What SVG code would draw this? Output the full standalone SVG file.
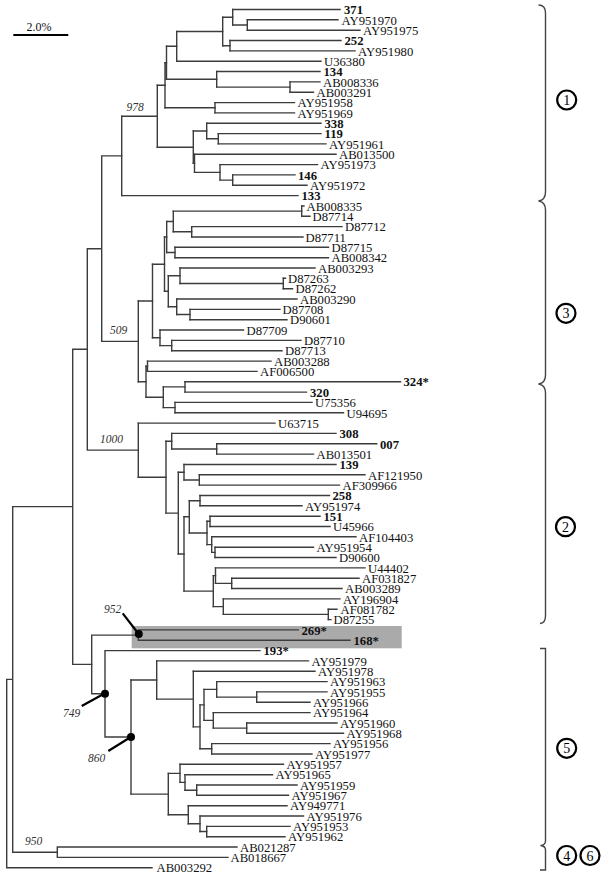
<svg xmlns="http://www.w3.org/2000/svg" width="608" height="888" viewBox="0 0 608 888">
<style>
.br{fill:none;stroke:#3c3c3c;stroke-width:1.4;stroke-linecap:square}
.t{font-family:"Liberation Serif","Times New Roman",serif;font-size:12.7px;fill:#111}
.b{font-weight:bold}
.bs{font-family:"Liberation Serif","Times New Roman",serif;font-style:italic;font-size:11.5px;fill:#333}
.ptr{stroke:#000;stroke-width:2.2;fill:none}
.dot{fill:#000}
.circ{fill:none;stroke:#000;stroke-width:2.2}
.cn{font-family:"Liberation Serif","Times New Roman",serif;font-size:14px;text-anchor:middle;fill:#000}
.brk{fill:none;stroke:#444;stroke-width:1.4}
</style>
<rect id="highlight" x="131.7" y="626" width="270" height="22.3" fill="#aaaaaa"/>
<g id="scale">
<line x1="13.3" y1="35" x2="68.3" y2="35" stroke="#000" stroke-width="2.2"/>
<text class="t" x="26.5" y="31" style="font-size:12px">2.0%</text>
</g>
<g id="connectors" class="br">
<path d="M247.3 19.8V30.2M232.7 9.5V25M230 40.5V50.9M222.7 17.3V45.7M176.7 31.5V61.2M290 81.9V92.2M216.7 71.5V87.1M166.5 46.3V79.3M215 102.6V112.9M165 62.8V107.7M218.3 133.6V143.9M206.7 123.2V138.8M232.7 174.9V185.3M220 164.6V180.1M194.5 154.3V172.4M193.3 131V163.3M157.3 85.3V147.2M121.7 116.2V195.6"/>
<path d="M232.7 9.5H340M247.3 19.8H338M247.3 30.2H360M232.7 25H247.3M230 40.5H341M230 50.9H355M222.7 17.3H232.7M222.7 45.7H230M176.7 31.5H222.7M176.7 61.2H321M290 81.9H320M290 92.2H313.5M216.7 71.5H320M216.7 87.1H290M166.5 46.3H176.7M166.5 79.3H216.7M215 102.6H294.5M215 112.9H294.5M165 62.8H166.5M165 107.7H215M218.3 133.6H321M218.3 143.9H326M206.7 123.2H321M206.7 138.8H218.3M232.7 174.9H295M232.7 185.3H307M220 164.6H317.5M220 180.1H232.7M194.5 154.3H336M194.5 172.4H220M193.3 131H206.7M193.3 163.3H194.5M157.3 85.3H165M157.3 147.2H193.3M121.7 116.2H157.3M121.7 195.6H298"/>
<path d="M301.7 206V216.3M191.7 226.6V237M173.3 211.1V231.8M175 247.3V257.7M166.7 221.5V252.5M283.3 278.3V288.7M180 268V283.5M190 309.4V319.7M176.7 299V314.5M168.3 275.8V306.8M164.5 237V291.3M171.7 340.4V350.7M160 330V345.6M152.5 264.2V337.8M185 381.7V392.1M175 402.4V412.8M163.3 386.9V407.6M147.5 361.1V371.4M146 366.2V397.3M138.3 301V381.8"/>
<path d="M301.7 206H304M301.7 216.3H310M191.7 226.6H342M191.7 237H303M173.3 211.1H301.7M173.3 231.8H191.7M175 247.3H328.5M175 257.7H328.5M166.7 221.5H173.3M166.7 252.5H175M283.3 278.3H285.5M283.3 288.7H292.5M180 268H315M180 283.5H283.3M190 309.4H280M190 319.7H287M176.7 299H297M176.7 314.5H190M168.3 275.8H180M168.3 306.8H176.7M164.5 237H166.7M164.5 291.3H168.3M171.7 340.4H301M171.7 350.7H282M160 330H243.5M160 345.6H171.7M152.5 264.2H164.5M152.5 337.8H160M185 381.7H400.5M185 392.1H306.5M175 402.4H312M175 412.8H343.5M163.3 386.9H185M163.3 407.6H175M147.5 361.1H271M147.5 371.4H257M146 366.2H147.5M146 397.3H163.3M138.3 301H152.5M138.3 381.8H146"/>
<path d="M216.7 443.8V454.1M171.7 433.4V449M199.3 474.8V485.1M184 464.5V480M200 495.5V505.8M210 516.2V526.5M215 547.2V557.5M211.7 536.8V552.4M207 521.3V544.6M189.3 500.7V533M231.7 578.2V588.5M215.5 567.9V583.4M328.3 609.2V619.6M223.3 598.9V614.4M213.3 575.6V606.6M184 516.8V591.1M178.3 472.2V554M166 441.2V513.1M138.3 423.1V477.2"/>
<path d="M216.7 443.8H376.7M216.7 454.1H313.5M171.7 433.4H336M171.7 449H216.7M199.3 474.8H365M199.3 485.1H339.5M184 464.5H336M184 480H199.3M200 495.5H329.5M200 505.8H302M210 516.2H320M210 526.5H330M215 547.2H313.5M215 557.5H336M211.7 536.8H356M211.7 552.4H215M207 521.3H210M207 544.6H211.7M189.3 500.7H200M189.3 533H207M231.7 578.2H359M231.7 588.5H342M215.5 567.9H365M215.5 583.4H231.7M328.3 609.2H337M328.3 619.6H331M223.3 598.9H340M223.3 614.4H328.3M213.3 575.6H215.5M213.3 606.6H223.3M184 516.8H189.3M184 591.1H213.3M178.3 472.2H184M178.3 554H184M166 441.2H171.7M166 513.1H178.3M138.3 423.1H275M138.3 477.2H166"/>
<path d="M138.3 629.9V640.2M138.3 629.9H298.3M138.3 640.2H350M105 650.6V737M105 650.6H260M91.7 635.1V693.8M91.7 635.1H138.3M91.7 693.8H105M131 680V794.1M105 737H131"/>
<path d="M256.7 691.9V702.3M216.7 681.6V697.1M246.7 723V733.3M213.3 712.6V728.1M204 689.4V720.4M211.7 743.6V754M200 704.9V748.8M193.3 671.3V726.9M156.7 660.9V699.1M196.7 785V795.3M185 774.7V790.2M180 764.3V782.4M206.7 826.4V836.7M200 816V831.5M188.3 805.7V823.8M168.3 773.4V814.7"/>
<path d="M256.7 691.9H327M256.7 702.3H310M216.7 681.6H327M216.7 697.1H256.7M246.7 723H337M246.7 733.3H343.5M213.3 712.6H310M213.3 728.1H246.7M204 689.4H216.7M204 720.4H213.3M211.7 743.6H330M211.7 754H312M200 704.9H204M200 748.8H211.7M193.3 671.3H315M193.3 726.9H200M156.7 660.9H308.5M156.7 699.1H193.3M196.7 785H297M196.7 795.3H288.5M185 774.7H272.5M185 790.2H196.7M180 764.3H283.5M180 782.4H185M206.7 826.4H290M206.7 836.7H285M200 816H303.5M200 831.5H206.7M188.3 805.7H287M188.3 823.8H200M168.3 773.4H180M168.3 814.7H188.3M131 680H156.7M131 794.1H168.3"/>
<path d="M101.7 155.9V341.4M101.7 155.9H121.7M101.7 341.4H138.3M87.3 248.7V450.1M87.3 248.7H101.7M87.3 450.1H138.3M72.7 349.3V664.4M72.7 349.3H87.3M72.7 664.4H91.7M57.3 847V857.4M57.3 847H237M57.3 857.4H228M12.7 506.6V852.2M12.7 506.6H72.7M12.7 852.2H57.3M6.7 679.4V867.7M6.7 679.4H12.7M6.7 867.7H152"/>
</g>
<g id="support">
<text class="bs" x="126.5" y="111">978</text>
<text class="bs" x="110" y="334">509</text>
<text class="bs" x="100" y="442.5">1000</text>
<text class="bs" x="104" y="612.5">952</text>
<text class="bs" x="63" y="716.8">749</text>
<text class="bs" x="88" y="761.8">860</text>
<text class="bs" x="25" y="845">950</text>
<line class="ptr" x1="122.7" y1="613.3" x2="138.3" y2="633.5"/>
<line class="ptr" x1="81.7" y1="706" x2="104" y2="693.8"/>
<line class="ptr" x1="108.3" y1="751" x2="130" y2="737.5"/>
<circle class="dot" cx="138.8" cy="634" r="4"/>
<circle class="dot" cx="105" cy="693.8" r="4"/>
<circle class="dot" cx="131" cy="737" r="4"/>
</g>
<g id="leaves" class="t">
<g id="n371"><text class="b" x="344" y="14.2">371</text></g>
<g id="nAY951970"><text x="341.5" y="24.5">AY951970</text></g>
<g id="nAY951975"><text x="363" y="34.9">AY951975</text></g>
<g id="n252"><text class="b" x="344.5" y="45.2">252</text></g>
<g id="nAY951980"><text x="358" y="55.6">AY951980</text></g>
<g id="nU36380"><text x="324" y="65.9">U36380</text></g>
<g id="n134"><text class="b" x="323.5" y="76.2">134</text></g>
<g id="nAB008336"><text x="323" y="86.6">AB008336</text></g>
<g id="nAB003291"><text x="316.5" y="96.9">AB003291</text></g>
<g id="nAY951958"><text x="297.5" y="107.3">AY951958</text></g>
<g id="nAY951969"><text x="297.5" y="117.6">AY951969</text></g>
<g id="n338"><text class="b" x="324.5" y="127.9">338</text></g>
<g id="n119"><text class="b" x="324.5" y="138.3">119</text></g>
<g id="nAY951961"><text x="329" y="148.6">AY951961</text></g>
<g id="nAB013500"><text x="339" y="159">AB013500</text></g>
<g id="nAY951973"><text x="320.5" y="169.3">AY951973</text></g>
<g id="n146"><text class="b" x="298" y="179.6">146</text></g>
<g id="nAY951972"><text x="310" y="190">AY951972</text></g>
<g id="n133"><text class="b" x="301.5" y="200.3">133</text></g>
<g id="nAB008335"><text x="306.5" y="210.7">AB008335</text></g>
<g id="nD87714"><text x="312.5" y="221">D87714</text></g>
<g id="nD87712"><text x="345" y="231.3">D87712</text></g>
<g id="nD87711"><text x="305.5" y="241.7">D87711</text></g>
<g id="nD87715"><text x="331.5" y="252">D87715</text></g>
<g id="nAB008342"><text x="331.5" y="262.4">AB008342</text></g>
<g id="nAB003293"><text x="318" y="272.7">AB003293</text></g>
<g id="nD87263"><text x="288" y="283">D87263</text></g>
<g id="nD87262"><text x="295.5" y="293.4">D87262</text></g>
<g id="nAB003290"><text x="300" y="303.7">AB003290</text></g>
<g id="nD87708"><text x="282.5" y="314.1">D87708</text></g>
<g id="nD90601"><text x="290" y="324.4">D90601</text></g>
<g id="nD87709"><text x="246.5" y="334.7">D87709</text></g>
<g id="nD87710"><text x="304" y="345.1">D87710</text></g>
<g id="nD87713"><text x="285" y="355.4">D87713</text></g>
<g id="nAB003288"><text x="274" y="365.8">AB003288</text></g>
<g id="nAF006500"><text x="260" y="376.1">AF006500</text></g>
<g id="n324"><text class="b" x="403.5" y="386.4">324*</text></g>
<g id="n320"><text class="b" x="310" y="396.8">320</text></g>
<g id="nU75356"><text x="315" y="407.1">U75356</text></g>
<g id="nU94695"><text x="346.5" y="417.5">U94695</text></g>
<g id="nU63715"><text x="278" y="427.8">U63715</text></g>
<g id="n308"><text class="b" x="339.5" y="438.1">308</text></g>
<g id="n007"><text class="b" x="380" y="448.5">007</text></g>
<g id="nAB013501"><text x="316.5" y="458.8">AB013501</text></g>
<g id="n139"><text class="b" x="339.5" y="469.2">139</text></g>
<g id="nAF121950"><text x="368" y="479.5">AF121950</text></g>
<g id="nAF309966"><text x="342.5" y="489.8">AF309966</text></g>
<g id="n258"><text class="b" x="332.5" y="500.2">258</text></g>
<g id="nAY951974"><text x="305" y="510.5">AY951974</text></g>
<g id="n151"><text class="b" x="323.5" y="520.9">151</text></g>
<g id="nU45966"><text x="333" y="531.2">U45966</text></g>
<g id="nAF104403"><text x="359" y="541.5">AF104403</text></g>
<g id="nAY951954"><text x="316.5" y="551.9">AY951954</text></g>
<g id="nD90600"><text x="339" y="562.2">D90600</text></g>
<g id="nU44402"><text x="368" y="572.6">U44402</text></g>
<g id="nAF031827"><text x="362" y="582.9">AF031827</text></g>
<g id="nAB003289"><text x="345" y="593.2">AB003289</text></g>
<g id="nAY196904"><text x="343" y="603.6">AY196904</text></g>
<g id="nAF081782"><text x="340.5" y="613.9">AF081782</text></g>
<g id="nD87255"><text x="333.5" y="624.3">D87255</text></g>
<g id="n269"><text class="b" x="301.5" y="634.6">269*</text></g>
<g id="n168"><text class="b" x="353.5" y="644.9">168*</text></g>
<g id="n193"><text class="b" x="263.5" y="655.3">193*</text></g>
<g id="nAY951979"><text x="311.5" y="665.6">AY951979</text></g>
<g id="nAY951978"><text x="318" y="676">AY951978</text></g>
<g id="nAY951963"><text x="330" y="686.3">AY951963</text></g>
<g id="nAY951955"><text x="330" y="696.6">AY951955</text></g>
<g id="nAY951966"><text x="313" y="707">AY951966</text></g>
<g id="nAY951964"><text x="313" y="717.3">AY951964</text></g>
<g id="nAY951960"><text x="340" y="727.7">AY951960</text></g>
<g id="nAY951968"><text x="346.5" y="738">AY951968</text></g>
<g id="nAY951956"><text x="333" y="748.3">AY951956</text></g>
<g id="nAY951977"><text x="315" y="758.7">AY951977</text></g>
<g id="nAY951957"><text x="286.5" y="769">AY951957</text></g>
<g id="nAY951965"><text x="275.5" y="779.4">AY951965</text></g>
<g id="nAY951959"><text x="300" y="789.7">AY951959</text></g>
<g id="nAY951967"><text x="291.5" y="800">AY951967</text></g>
<g id="nAY949771"><text x="290" y="810.4">AY949771</text></g>
<g id="nAY951976"><text x="306.5" y="820.7">AY951976</text></g>
<g id="nAY951953"><text x="293" y="831.1">AY951953</text></g>
<g id="nAY951962"><text x="288" y="841.4">AY951962</text></g>
<g id="nAB021287"><text x="240" y="851.7">AB021287</text></g>
<g id="nAB018667"><text x="230.5" y="862.1">AB018667</text></g>
<g id="nAB003292"><text x="156.5" y="872.4">AB003292</text></g>
</g>
<g id="brackets">
<path class="brk" d="M538.5 5Q545.5 5 545.5 13V192Q545.5 200 538.5 201Q545.5 202 545.5 210V375Q545.5 383 538.5 384Q545.5 385 545.5 393V616Q545.5 623 540 623.5"/>
<path class="brk" d="M540 648.5H545.5V841Q545.5 845 540.5 845.5Q545.5 846 545.5 850V870H540"/>
</g>
<g id="group1"><circle class="circ" cx="566.7" cy="100" r="9.5"/><text class="cn" x="566.7" y="105">1</text></g>
<g id="group3"><circle class="circ" cx="566" cy="313.3" r="9.5"/><text class="cn" x="566" y="318.3">3</text></g>
<g id="group2"><circle class="circ" cx="565.5" cy="526.7" r="9.5"/><text class="cn" x="565.5" y="531.7">2</text></g>
<g id="group5"><circle class="circ" cx="566.7" cy="748.3" r="9.5"/><text class="cn" x="566.7" y="753.3">5</text></g>
<g id="group4"><circle class="circ" cx="566.7" cy="855.5" r="9.5"/><text class="cn" x="566.7" y="860.5">4</text></g>
<g id="group6"><circle class="circ" cx="590" cy="855.5" r="9.5"/><text class="cn" x="590" y="860.5">6</text></g>
</svg>
